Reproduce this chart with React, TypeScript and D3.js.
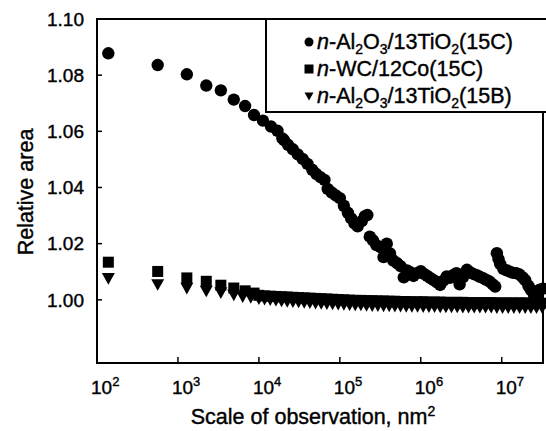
import React from "react";
import * as d3 from "d3";

// log10 of scale of observation (nm^2) and relative area
const s1LogX = [2.14, 2.75, 3.11, 3.35, 3.53, 3.69, 3.83, 3.94, 4.05, 4.15, 4.23, 4.29, 4.31, 4.36,
  4.42, 4.48, 4.54, 4.60, 4.66, 4.71, 4.76, 4.81, 4.85, 4.90, 4.95, 5.00, 5.05, 5.10, 5.14, 5.18,
  5.22, 5.27, 5.31, 5.34, 5.37, 5.41, 5.45, 5.50, 5.54, 5.58, 5.62, 5.66, 5.71, 5.75, 5.79, 5.83,
  5.87, 5.91, 5.95, 6.00, 6.04, 6.08, 6.12, 6.16, 6.20, 6.24, 6.28, 6.32, 6.36, 6.40, 6.44, 6.48,
  6.52, 6.57, 6.61, 6.65, 6.69, 6.73, 6.77, 6.81, 6.85, 6.89, 6.92, 6.94, 6.96, 6.98, 7.02, 7.06,
  7.10, 7.14, 7.18, 7.22, 7.26, 7.29, 7.33, 7.36, 7.40, 7.44, 7.47, 7.51];
const s1Y = [1.0878, 1.0836, 1.0803, 1.0763, 1.0746, 1.0713, 1.0690, 1.0658, 1.0638, 1.0617, 1.0602, 1.0575, 1.0569, 1.0552,
  1.0536, 1.0518, 1.0502, 1.0484, 1.0463, 1.0448, 1.0437, 1.0427, 1.0395, 1.0382, 1.0372, 1.0362, 1.0335, 1.0310, 1.0290, 1.0272,
  1.0262, 1.0280, 1.0298, 1.0302, 1.0225, 1.0212, 1.0195, 1.0188, 1.0152, 1.0200, 1.0165, 1.0140, 1.0130, 1.0120, 1.0080, 1.0105,
  1.0098, 1.0085, 1.0095, 1.0102, 1.0092, 1.0085, 1.0077, 1.0070, 1.0062, 1.0053, 1.0068, 1.0083, 1.0078, 1.0088, 1.0095, 1.0055,
  1.0080, 1.0107, 1.0098, 1.0092, 1.0088, 1.0082, 1.0077, 1.0071, 1.0065, 1.0055, 1.0047, 1.0166, 1.0145, 1.0128, 1.0110, 1.0105,
  1.0100, 1.0096, 1.0095, 1.0090, 1.0080, 1.0070, 1.0050, 1.0035, 1.0015, 1.0010, 1.0036, 1.0040];

const s2LogX = [2.14, 2.75, 3.11, 3.35, 3.53, 3.69, 3.83, 3.94,
  4.00, 4.07, 4.14, 4.21, 4.28, 4.35, 4.42, 4.49, 4.56, 4.63, 4.70, 4.77, 4.84, 4.91, 4.98, 5.05,
  5.12, 5.19, 5.26, 5.33, 5.40, 5.47, 5.54, 5.61, 5.68, 5.75, 5.82, 5.89, 5.96, 6.03, 6.10, 6.17,
  6.24, 6.31, 6.38, 6.45, 6.52, 6.59, 6.66, 6.73, 6.80, 6.87, 6.94, 7.01, 7.08, 7.15, 7.22, 7.29,
  7.36, 7.43, 7.50];
const s2Y = [1.0134, 1.0101, 1.0078, 1.0066, 1.0052, 1.0042, 1.0032, 1.0024,
  1.0016, 1.0014, 1.0013, 1.0012, 1.0011, 1.0010, 1.0009, 1.0008, 1.0007, 1.0006, 1.0005, 1.0004, 1.0003, 1.0002, 1.0001, 1.0000,
  0.9999, 0.9998, 0.9998, 0.9997, 0.9997, 0.9996, 0.9996, 0.9995, 0.9995, 0.9994, 0.9994, 0.9993, 0.9993, 0.9993, 0.9992, 0.9992,
  0.9992, 0.9991, 0.9991, 0.9991, 0.9991, 0.9990, 0.9990, 0.9990, 0.9990, 0.9990, 0.9989, 0.9989, 0.9989, 0.9989, 0.9989, 0.9989,
  0.9988, 0.9988, 0.9988];

const s3LogX = [2.14, 2.75, 3.11, 3.35, 3.53, 3.69, 3.80, 3.90,
  4.00, 4.07, 4.14, 4.21, 4.28, 4.35, 4.42, 4.49, 4.56, 4.63, 4.70, 4.77, 4.84, 4.91, 4.98, 5.05,
  5.12, 5.19, 5.26, 5.33, 5.40, 5.47, 5.54, 5.61, 5.68, 5.75, 5.82, 5.89, 5.96, 6.03, 6.10, 6.17,
  6.24, 6.31, 6.38, 6.45, 6.52, 6.59, 6.66, 6.73, 6.80, 6.87, 6.94, 7.01, 7.08, 7.15, 7.22, 7.29,
  7.36, 7.43, 7.50];
const s3Y = [1.0077, 1.0055, 1.0042, 1.0032, 1.0026, 1.0018, 1.0012, 1.0009,
  1.0005, 1.0003, 1.0001, 0.9999, 0.9997, 0.9995, 0.9994, 0.9993, 0.9991, 0.9990, 0.9989, 0.9988, 0.9987, 0.9986, 0.9985, 0.9984,
  0.9983, 0.9982, 0.9982, 0.9981, 0.9980, 0.9980, 0.9979, 0.9979, 0.9978, 0.9978, 0.9977, 0.9977, 0.9977, 0.9976, 0.9976, 0.9976,
  0.9975, 0.9975, 0.9975, 0.9975, 0.9974, 0.9974, 0.9974, 0.9974, 0.9974, 0.9974, 0.9973, 0.9973, 0.9973, 0.9973, 0.9973, 0.9973,
  0.9973, 0.9973, 0.9973];

const yTicks = [1.0, 1.02, 1.04, 1.06, 1.08, 1.1];
const xTickExps = [2, 3, 4, 5, 6, 7];

const FONT = "'Liberation Sans', Arial, sans-serif";

export default function App() {
  const left = 97, right = 543, top = 19, bottom = 363;
  const x = d3.scaleLog().domain([100, Math.pow(10, 7.51)]).range([left, right]);
  const y = d3.scaleLinear().domain([0.9775, 1.1]).range([bottom, top]);

  const s1 = s1LogX.map((lx, i) => ({ x: x(Math.pow(10, lx)), y: y(s1Y[i]) }));
  const s2 = s2LogX.map((lx, i) => ({ x: x(Math.pow(10, lx)), y: y(s2Y[i]) }));
  const s3 = s3LogX.map((lx, i) => ({ x: x(Math.pow(10, lx)), y: y(s3Y[i]) }));

  const tri = (cx: number, cy: number, s: number) =>
    `M${cx - s},${cy - s * 0.8}L${cx + s},${cy - s * 0.8}L${cx},${cy + s}Z`;

  const legendRows = [
    { parts: [["-Al", 0], ["2", 1], ["O", 0], ["3", 1], ["/13TiO", 0], ["2", 1], ["(15C)", 0]], marker: "circle" },
    { parts: [["-WC/12Co(15C)", 0]], marker: "square" },
    { parts: [["-Al", 0], ["2", 1], ["O", 0], ["3", 1], ["/13TiO", 0], ["2", 1], ["(15B)", 0]], marker: "tri" },
  ];

  const textStroke = { stroke: "#000", strokeWidth: 0.4 };

  return (
    <svg width={546} height={431} style={{ position: "absolute", left: 0, top: 0, background: "#fff" }} fontFamily={FONT}>
      <rect x={0} y={0} width={546} height={431} fill="#fff" />
      {/* data */}
      <g fill="#000">
        {s3.map((p, i) => <path key={"t" + i} d={tri(p.x, p.y, 6.5)} />)}
        {s2.map((p, i) => <rect key={"s" + i} x={p.x - 5.5} y={p.y - 5.5} width={11} height={11} />)}
        {s1.map((p, i) => <circle key={"c" + i} cx={p.x} cy={p.y} r={6.2} />)}
      </g>
      {/* frame */}
      <rect x={left} y={top} width={right - left} height={bottom - top} fill="none" stroke="#000" strokeWidth={2} />
      {/* y ticks */}
      {yTicks.map((t) => (
        <g key={"y" + t}>
          <line x1={left} x2={left + 5} y1={y(t)} y2={y(t)} stroke="#000" strokeWidth={1.5} />
          <text x={84} y={y(t)} dy="0.36em" textAnchor="end" fontSize={19} {...textStroke}>{t.toFixed(2)}</text>
        </g>
      ))}
      {/* x ticks */}
      {xTickExps.map((e) => {
        const px = x(Math.pow(10, e));
        return (
          <g key={"x" + e}>
            {e > 2 && <line x1={px} x2={px} y1={bottom} y2={bottom - 6} stroke="#000" strokeWidth={1.5} />}
            <text x={px - 6} y={394} fontSize={19} {...textStroke}>
              10<tspan dy={-8} fontSize={13}>{e}</tspan>
            </text>
          </g>
        );
      })}
      {/* axis titles */}
      <text x={313} y={424} textAnchor="middle" fontSize={21.5} {...textStroke}>
        Scale of observation, nm<tspan dy={-8} fontSize={14}>2</tspan>
      </text>
      <text transform="translate(33,192) rotate(-90)" textAnchor="middle" fontSize={21.5} {...textStroke}>Relative area</text>
      {/* legend */}
      <rect x={266} y={top} width={300} height={93} fill="#fff" stroke="#000" strokeWidth={2} />
      {legendRows.map((row, i) => {
        const cy = 42 + i * 27;
        return (
          <g key={"l" + i}>
            {row.marker === "circle" && <circle cx={309} cy={cy} r={4.5} fill="#000" />}
            {row.marker === "square" && <rect x={304.5} y={cy - 4.5} width={9} height={9} fill="#000" />}
            {row.marker === "tri" && <path d={tri(309, cy, 4.5)} fill="#000" />}
            <text x={317} y={cy + 7} fontSize={21.5} {...textStroke}>
              <tspan fontStyle="italic">n</tspan>
              {row.parts.map((p, j) => {
                const prevSub = j > 0 && row.parts[j - 1][1] === 1;
                const isSub = p[1] === 1;
                const dy = isSub ? 5 : prevSub ? -5 : 0;
                return (
                  <tspan key={j} dy={dy} fontSize={isSub ? 14 : 21.5}>{p[0]}</tspan>
                );
              })}
            </text>
          </g>
        );
      })}
    </svg>
  );
}
